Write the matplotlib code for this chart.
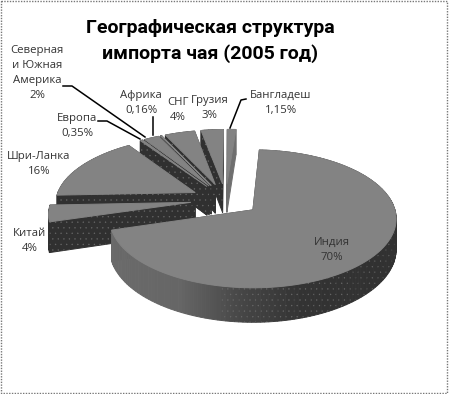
import numpy as np
import matplotlib
matplotlib.use("Agg")
import matplotlib.pyplot as plt
from matplotlib.patches import Polygon, Rectangle

plt.rcParams['font.family'] = ['Open Sans', 'DejaVu Sans']

# data
categories = ["Индия", "Китай", "Шри-Ланка", "Европа", "Северная\nи Южная\nАмерика",
              "Африка", "СНГ", "Грузия", "Бангладеш"]
shares = [70, 4, 16, 0.35, 2, 0.16, 4, 3, 1.15]
share_labels = ["70%", "4%", "16%", "0,35%", "2%", "0,16%", "4%", "3%", "1,15%"]
title = "Географическая структура\nимпорта чая (2005 год)"

# layout of the exploded perspective pie (pixels of the figure)
W, H = 449, 394
cx, cy = 252.0, 210.0
rx, k, persp = 142.0, 67.8, 0.13
depth = 30.0
start_deg = 3.0
explode = 0.25
origin = (-0.19, 0.156)
label_pos = [(332, 250), (30, 241), (39, 164), (77, 126), (37, 73),
             (141, 103), (178, 110), (210, 108), (281, 103)]
leaders = [[(230, 128), (241, 100), (246, 99)],
           [(153, 135), (153, 117)],
           [(98, 121), (107, 121), (140, 139)],
           [(63, 86), (72, 86), (145, 137)]]

TOP = "#838383"
WALL = "#303030"


def project(gx, gy, drop=0.0):
    d = 1 + persp * gy
    return cx + rx * gx / d, cy - k * gy / d + drop / d


fig = plt.figure(figsize=(W / 100, H / 100), dpi=100)
ax = fig.add_axes([0, 0, 1, 1])
ax.set_xlim(0, W)
ax.set_ylim(H, 0)
ax.axis("off")

fr = np.array(shares) / np.sum(shares) * 360
edges = start_deg + np.concatenate([[0], np.cumsum(fr)])
order = [8, 7, 6, 5, 4, 3, 2, 1, 0]


def add_poly(pts, color, z, dots=False):
    ax.add_patch(Polygon(pts, closed=True, facecolor=color, edgecolor=color, lw=0.7, zorder=z))
    if dots:
        ax.add_patch(Polygon(pts, closed=True, facecolor="none", edgecolor="#6a6a6a", lw=0,
                             hatch="...", zorder=z))


plt.rcParams['hatch.linewidth'] = 0.2
z = 2
for i in order:
    a0, a1 = np.radians(edges[i]), np.radians(edges[i + 1])
    mid = (a0 + a1) / 2
    ax0 = origin[0] + explode * np.sin(mid)
    ay0 = origin[1] + explode * np.cos(mid)
    n = max(3, int((a1 - a0) / np.radians(1.5)))
    th = np.linspace(a0, a1, n)
    gx = np.concatenate([[ax0], ax0 + np.sin(th)])
    gy = np.concatenate([[ay0], ay0 + np.cos(th)])
    top = np.array([project(u, v) for u, v in zip(gx, gy)])
    bot = np.array([project(u, v, depth) for u, v in zip(gx, gy)])
    m = len(top)
    quads = []
    for j in range(m):
        q = (j + 1) % m
        is_arc = 1 <= j < m - 1
        dots = True
        if i == 0 and is_arc:
            s = np.sin((th[j - 1] + th[j]) / 2)
            lv = np.interp(s, [-1, -0.45, -0.05, 0.3, 1], [0.42, 0.40, 0.27, 0.2, 0.19])
            col = (lv, lv, lv)
            dots = s > -0.2
        elif i == 8:
            col = "#6f6f6f"
            dots = False
        else:
            col = WALL
        quads.append(((top[j, 1] + top[q, 1]) / 2, [top[j], top[q], bot[q], bot[j]], col, dots))
    for _, pts, col, dots in sorted(quads, key=lambda t: t[0]):
        add_poly(pts, col, z, dots)
    z += 1
    add_poly(top, TOP, z)
    z += 1

for path in leaders:
    xs, ys = zip(*path)
    ax.plot(xs, ys, color="black", lw=1.1, zorder=z)
z += 1

ax.text(210, 41, title, ha="center", va="center", fontsize=14, fontweight="bold",
        family=["Roboto", "DejaVu Sans"], color="black", linespacing=1.55, zorder=z)
for name, val, (x, y) in zip(categories, share_labels, label_pos):
    ax.text(x, y, name + "\n" + val, ha="center", va="center", fontsize=8.2,
            color="#333333", linespacing=1.5, zorder=z)

ax.add_patch(Rectangle((1, 1), W - 3, H - 2.5, fill=False, edgecolor="#777777", lw=1,
                       linestyle=(0, (1, 1)), zorder=z))
fig.savefig("out.png", dpi=100)
